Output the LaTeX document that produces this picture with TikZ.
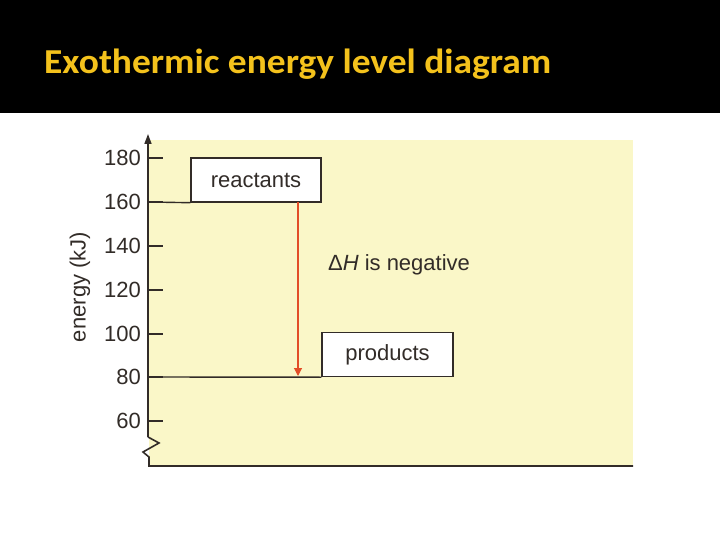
\documentclass[tikz,border=0pt]{standalone}
\usepackage{fontspec}
\setmainfont{Liberation Sans}
\newfontfamily\titlefont{Carlito}
\usetikzlibrary{arrows.meta}
\definecolor{titleyellow}{RGB}{244,194,28}
\definecolor{panel}{RGB}{250,247,200}
\definecolor{ink}{RGB}{50,44,40}
\definecolor{arrowred}{RGB}{226,78,40}
\tikzset{
  lbl/.style={font=\fontsize{22}{24}\selectfont, text=ink, inner sep=0pt},
  levelbox/.style={draw=ink, line width=1.4pt, fill=white, minimum height=44pt, inner sep=0pt, font=\fontsize{22}{24}\selectfont, text=ink},
  axisline/.style={draw=ink, line width=1.6pt},
  tickline/.style={draw=ink, line width=1.4pt},
}
\begin{document}
\begin{tikzpicture}[x=1pt,y=-1pt]
\useasboundingbox (0,0) rectangle (720,540);
% backgrounds
\fill[white] (0,0) rectangle (720,540);
\fill[black] (0,0) rectangle (720,113);
\fill[panel] (149,140) rectangle (633,466);
% title
\node[anchor=base west, text=titleyellow, font=\titlefont\bfseries\fontsize{35}{38}\selectfont, inner sep=0pt, xscale=1.07] (title) at (44,73.5) {Exothermic energy level diagram};
% axis coordinates
\coordinate (top) at (148,134);
\coordinate (zz0) at (148,437);
\coordinate (zz1) at (159,443);
\coordinate (zz2) at (143,452);
\coordinate (zz3) at (149,457);
\coordinate (origin) at (149,466);
\coordinate (xend) at (633,466);
\draw[axisline, -{Triangle[length=10pt,width=7pt]}] (zz0) -- (top);
\draw[axisline, line join=miter] (zz0) -- (zz1) -- (zz2) -- (zz3) -- (origin) -- (xend);
% ticks
\foreach \v/\yy in {180/158,160/202,140/246,120/290,100/334,80/377,60/421}{
  \draw[tickline] (148,\yy) -- (163,\yy);
  \node[lbl, anchor=east] (t\v) at (141,\yy) {\v};
}
\node[lbl, rotate=90] (ylabel) at (80,287) {energy (kJ)};
% boxes
\node[levelbox, minimum width=130pt] (reactants) at (256,180) {reactants};
\node[levelbox, minimum width=131pt] (products) at (387.5,354.5) {products};
% level lines
\coordinate (a160) at (148,202);
\coordinate (a80) at (148,377);
\draw[tickline] (a160) -- (reactants.south west);
\draw[tickline] (a80) -- (products.south west);
% arrow
\coordinate (arrtop) at (298,202);
\coordinate (arrbot) at (298,376);
\draw[arrowred, line width=1.1pt, -{Triangle[length=8pt,width=8pt]}] (arrtop) -- (arrbot);
\node[lbl, anchor=center] (dh) at (399,265) {Δ\textit{H} is negative};
\end{tikzpicture}
\end{document}
